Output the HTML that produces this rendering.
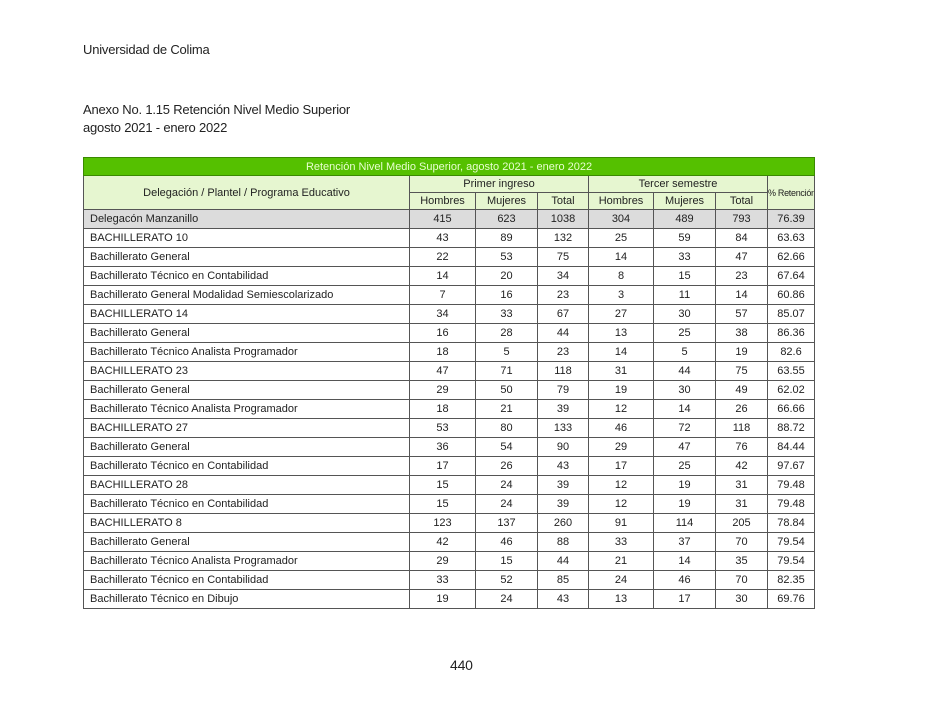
<!DOCTYPE html>
<html><head><meta charset="utf-8"><style>
body{margin:0;width:925px;height:715px;background:#fff;font-family:"Liberation Sans",sans-serif;color:#222;position:relative;overflow:hidden}
.t{position:absolute;font-size:13px;letter-spacing:-0.2px}
table{position:absolute;left:83px;top:157px;width:731px;border-collapse:collapse;table-layout:fixed;font-size:11px}
td{border:1px solid #555;padding:0;height:18px;text-align:center;white-space:nowrap;overflow:hidden}
td.l{text-align:left;padding-left:6px}
tr.g td{background:#55c000;color:#e8ffd0;border-color:#3a8a00;height:17px}
tr.h td{background:#e6f6d0;height:16px}
tr.d td{background:#dcdcdc}
</style></head><body>
<div class="t" style="left:83px;top:42px">Universidad de Colima</div>
<div class="t" style="left:83px;top:102px">Anexo No. 1.15 Retención Nivel Medio Superior</div>
<div class="t" style="left:83px;top:120px">agosto 2021 - enero 2022</div>
<table>
<colgroup><col style="width:326px"><col style="width:66px"><col style="width:62px"><col style="width:51px"><col style="width:65px"><col style="width:62px"><col style="width:52px"><col style="width:47px"></colgroup>
<tr class="g"><td colspan="8">Retención Nivel Medio Superior, agosto 2021 - enero 2022</td></tr>
<tr class="h"><td rowspan="2">Delegación / Plantel / Programa Educativo</td><td colspan="3">Primer ingreso</td><td colspan="3">Tercer semestre</td><td rowspan="2" style="font-size:9px;letter-spacing:-0.3px">% Retención</td></tr>
<tr class="h"><td>Hombres</td><td>Mujeres</td><td>Total</td><td>Hombres</td><td>Mujeres</td><td>Total</td></tr>
<tr class="d"><td class="l">Delegacón Manzanillo</td><td>415</td><td>623</td><td>1038</td><td>304</td><td>489</td><td>793</td><td>76.39</td></tr>
<tr><td class="l">BACHILLERATO 10</td><td>43</td><td>89</td><td>132</td><td>25</td><td>59</td><td>84</td><td>63.63</td></tr>
<tr><td class="l">Bachillerato General</td><td>22</td><td>53</td><td>75</td><td>14</td><td>33</td><td>47</td><td>62.66</td></tr>
<tr><td class="l">Bachillerato Técnico en Contabilidad</td><td>14</td><td>20</td><td>34</td><td>8</td><td>15</td><td>23</td><td>67.64</td></tr>
<tr><td class="l">Bachillerato General Modalidad Semiescolarizado</td><td>7</td><td>16</td><td>23</td><td>3</td><td>11</td><td>14</td><td>60.86</td></tr>
<tr><td class="l">BACHILLERATO 14</td><td>34</td><td>33</td><td>67</td><td>27</td><td>30</td><td>57</td><td>85.07</td></tr>
<tr><td class="l">Bachillerato General</td><td>16</td><td>28</td><td>44</td><td>13</td><td>25</td><td>38</td><td>86.36</td></tr>
<tr><td class="l">Bachillerato Técnico Analista Programador</td><td>18</td><td>5</td><td>23</td><td>14</td><td>5</td><td>19</td><td>82.6</td></tr>
<tr><td class="l">BACHILLERATO 23</td><td>47</td><td>71</td><td>118</td><td>31</td><td>44</td><td>75</td><td>63.55</td></tr>
<tr><td class="l">Bachillerato General</td><td>29</td><td>50</td><td>79</td><td>19</td><td>30</td><td>49</td><td>62.02</td></tr>
<tr><td class="l">Bachillerato Técnico Analista Programador</td><td>18</td><td>21</td><td>39</td><td>12</td><td>14</td><td>26</td><td>66.66</td></tr>
<tr><td class="l">BACHILLERATO 27</td><td>53</td><td>80</td><td>133</td><td>46</td><td>72</td><td>118</td><td>88.72</td></tr>
<tr><td class="l">Bachillerato General</td><td>36</td><td>54</td><td>90</td><td>29</td><td>47</td><td>76</td><td>84.44</td></tr>
<tr><td class="l">Bachillerato Técnico en Contabilidad</td><td>17</td><td>26</td><td>43</td><td>17</td><td>25</td><td>42</td><td>97.67</td></tr>
<tr><td class="l">BACHILLERATO 28</td><td>15</td><td>24</td><td>39</td><td>12</td><td>19</td><td>31</td><td>79.48</td></tr>
<tr><td class="l">Bachillerato Técnico en Contabilidad</td><td>15</td><td>24</td><td>39</td><td>12</td><td>19</td><td>31</td><td>79.48</td></tr>
<tr><td class="l">BACHILLERATO 8</td><td>123</td><td>137</td><td>260</td><td>91</td><td>114</td><td>205</td><td>78.84</td></tr>
<tr><td class="l">Bachillerato General</td><td>42</td><td>46</td><td>88</td><td>33</td><td>37</td><td>70</td><td>79.54</td></tr>
<tr><td class="l">Bachillerato Técnico Analista Programador</td><td>29</td><td>15</td><td>44</td><td>21</td><td>14</td><td>35</td><td>79.54</td></tr>
<tr><td class="l">Bachillerato Técnico en Contabilidad</td><td>33</td><td>52</td><td>85</td><td>24</td><td>46</td><td>70</td><td>82.35</td></tr>
<tr><td class="l">Bachillerato Técnico en Dibujo</td><td>19</td><td>24</td><td>43</td><td>13</td><td>17</td><td>30</td><td>69.76</td></tr>
</table>
<div class="t" style="left:450px;top:657px;font-size:14px">440</div>
</body></html>
